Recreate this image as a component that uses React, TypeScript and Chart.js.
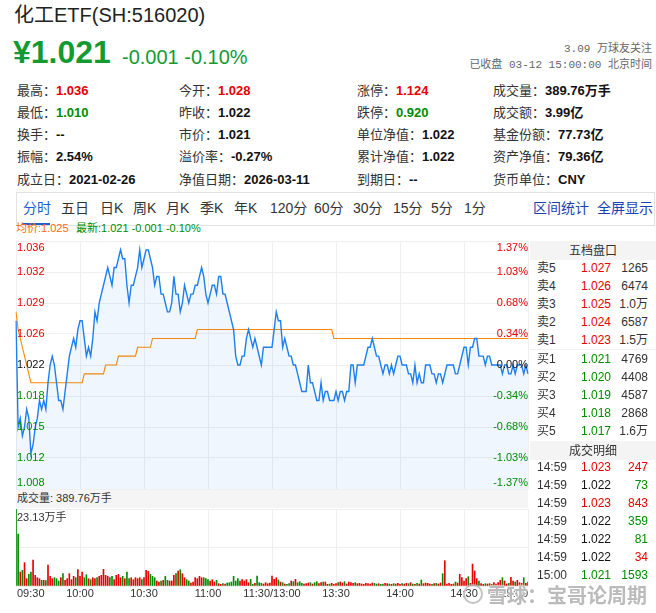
import React, { useEffect, useRef } from "react";
import { Chart, registerables } from "chart.js";

Chart.register(...registerables);

// ---------------- data ----------------
const PREV_CLOSE = 1.022;
const OPEN_PRICE = 1.028;
const VOL_MAX = 23.13;

const TIME_TICK_INDEX = [0, 30, 60, 90, 120, 150, 180, 210, 240];
const TIME_TICK_LABELS = ["09:30", "10:00", "10:30", "11:00", "11:30/13:00", "13:30", "14:00", "14:30", "15:00"];

const PRICE_TICKS = [1.036, 1.0325, 1.029, 1.0255, 1.022, 1.0185, 1.015, 1.0115, 1.008];
const PRICE_TICK_LABELS = ["1.036", "1.032", "1.029", "1.026", "1.022", "1.018", "1.015", "1.012", "1.008"];
const PCT_TICK_LABELS = ["1.37%", "1.03%", "0.68%", "0.34%", "0.00%", "-0.34%", "-0.68%", "-1.03%", "-1.37%"];

const PRICE = [
  1.027, 1.015, 1.016, 1.014, 1.015, 1.017, 1.016, 1.012, 1.013, 1.015,
  1.016, 1.018, 1.017, 1.018, 1.017, 1.020, 1.022, 1.023, 1.022, 1.020,
  1.018, 1.018, 1.017, 1.019, 1.021, 1.023, 1.024, 1.025, 1.024, 1.026,
  1.027, 1.027, 1.025, 1.023, 1.024, 1.023, 1.025, 1.028, 1.027, 1.029,
  1.030, 1.031, 1.032, 1.033, 1.032, 1.031, 1.033, 1.033, 1.034, 1.035,
  1.034, 1.034, 1.031, 1.029, 1.031, 1.031, 1.032, 1.033, 1.035, 1.033,
  1.034, 1.035, 1.035, 1.034, 1.033, 1.031, 1.032, 1.032, 1.030, 1.030,
  1.029, 1.028, 1.028, 1.029, 1.032, 1.030, 1.030, 1.028, 1.029, 1.031,
  1.030, 1.029, 1.030, 1.030, 1.031, 1.031, 1.032, 1.033, 1.032, 1.030,
  1.029, 1.030, 1.031, 1.031, 1.030, 1.032, 1.032, 1.030, 1.030, 1.029,
  1.028, 1.027, 1.026, 1.023, 1.022, 1.022, 1.023, 1.023, 1.025, 1.026,
  1.025, 1.024, 1.025, 1.024, 1.023, 1.022, 1.024, 1.024, 1.024, 1.024,
  1.024, 1.026, 1.028, 1.027, 1.027, 1.024, 1.025, 1.024, 1.023, 1.023,
  1.022, 1.022, 1.021, 1.020, 1.019, 1.019, 1.019, 1.022, 1.020, 1.020,
  1.019, 1.018, 1.018, 1.020, 1.018, 1.019, 1.019, 1.018, 1.018, 1.018,
  1.019, 1.018, 1.019, 1.019, 1.018, 1.019, 1.019, 1.022, 1.022, 1.020,
  1.022, 1.022, 1.022, 1.022, 1.023, 1.024, 1.024, 1.025, 1.024, 1.023,
  1.023, 1.022, 1.021, 1.022, 1.022, 1.021, 1.022, 1.021, 1.022, 1.023,
  1.023, 1.022, 1.022, 1.022, 1.021, 1.021, 1.020, 1.022, 1.020, 1.021,
  1.020, 1.020, 1.022, 1.022, 1.022, 1.021, 1.021, 1.020, 1.021, 1.021,
  1.020, 1.021, 1.022, 1.022, 1.022, 1.022, 1.021, 1.021, 1.022, 1.023,
  1.024, 1.024, 1.022, 1.024, 1.024, 1.025, 1.025, 1.023, 1.023, 1.023,
  1.022, 1.023, 1.023, 1.022, 1.022, 1.022, 1.022, 1.022, 1.021, 1.022,
  1.022, 1.021, 1.021, 1.022, 1.021, 1.022, 1.022, 1.022, 1.021, 1.022,
  1.021,
];

const AVG_PRICE = [
  1.028, 1.026, 1.025, 1.024, 1.023, 1.022, 1.021, 1.020, 1.020, 1.020,
  1.020, 1.020, 1.020, 1.020, 1.020, 1.020, 1.020, 1.020, 1.020, 1.020,
  1.020, 1.020, 1.020, 1.020, 1.020, 1.020, 1.020, 1.020, 1.020, 1.020,
  1.020, 1.020, 1.021, 1.021, 1.021, 1.021, 1.021, 1.021, 1.021, 1.021,
  1.021, 1.021, 1.022, 1.022, 1.022, 1.022, 1.022, 1.022, 1.023, 1.023,
  1.023, 1.023, 1.023, 1.023, 1.023, 1.023, 1.023, 1.024, 1.024, 1.024,
  1.024, 1.024, 1.024, 1.024, 1.025, 1.025, 1.025, 1.025, 1.025, 1.025,
  1.025, 1.025, 1.025, 1.025, 1.025, 1.025, 1.025, 1.025, 1.025, 1.025,
  1.025, 1.025, 1.025, 1.025, 1.025, 1.026, 1.026, 1.026, 1.026, 1.026,
  1.026, 1.026, 1.026, 1.026, 1.026, 1.026, 1.026, 1.026, 1.026, 1.026,
  1.026, 1.026, 1.026, 1.026, 1.026, 1.026, 1.026, 1.026, 1.026, 1.026,
  1.026, 1.026, 1.026, 1.026, 1.026, 1.026, 1.026, 1.026, 1.026, 1.026,
  1.026, 1.026, 1.026, 1.026, 1.026, 1.026, 1.026, 1.026, 1.026, 1.026,
  1.026, 1.026, 1.026, 1.026, 1.026, 1.026, 1.026, 1.026, 1.026, 1.026,
  1.026, 1.026, 1.026, 1.026, 1.026, 1.026, 1.026, 1.026, 1.026, 1.025,
  1.025, 1.025, 1.025, 1.025, 1.025, 1.025, 1.025, 1.025, 1.025, 1.025,
  1.025, 1.025, 1.025, 1.025, 1.025, 1.025, 1.025, 1.025, 1.025, 1.025,
  1.025, 1.025, 1.025, 1.025, 1.025, 1.025, 1.025, 1.025, 1.025, 1.025,
  1.025, 1.025, 1.025, 1.025, 1.025, 1.025, 1.025, 1.025, 1.025, 1.025,
  1.025, 1.025, 1.025, 1.025, 1.025, 1.025, 1.025, 1.025, 1.025, 1.025,
  1.025, 1.025, 1.025, 1.025, 1.025, 1.025, 1.025, 1.025, 1.025, 1.025,
  1.025, 1.025, 1.025, 1.025, 1.025, 1.025, 1.025, 1.025, 1.025, 1.025,
  1.025, 1.025, 1.025, 1.025, 1.025, 1.025, 1.025, 1.025, 1.025, 1.025,
  1.025, 1.025, 1.025, 1.025, 1.025, 1.025, 1.025, 1.025, 1.025, 1.025,
  1.025,
];

// 万手 per minute
const VOLUME = [
  23.13, 15.6, 4.2, 4.7, 7.0, 2.2, 3.5, 4.2, 7.8, 3.2,
  2.5, 2.2, 1.7, 1.7, 1.6, 6.3, 2.9, 2.2, 2.5, 2.2,
  1.5, 2.5, 3.7, 1.7, 2.2, 3.7, 1.9, 2.9, 2.5, 4.9,
  2.9, 4.2, 2.5, 3.4, 2.2, 1.9, 2.5, 2.2, 2.5, 2.9,
  3.2, 5.0, 3.2, 2.9, 2.5, 2.9, 1.9, 3.2, 3.5, 2.5,
  2.9, 2.2, 4.2, 2.2, 2.5, 1.9, 2.5, 2.2, 2.5, 1.9,
  2.5, 4.7, 4.4, 3.5, 2.9, 2.5, 1.5, 1.2, 1.5, 1.7,
  2.9, 1.7, 1.5, 1.5, 3.2, 3.7, 4.5, 4.9, 3.7, 2.5,
  1.9, 1.5, 0.9, 1.2, 2.5, 2.2, 2.9, 2.5, 2.5, 2.2,
  1.9, 1.5, 1.9, 1.2, 1.7, 0.7, 0.5, 0.7, 0.6, 0.9,
  1.0, 1.2, 2.9, 1.5, 2.2, 1.5, 1.9, 1.5, 1.9, 1.0,
  2.0, 0.5, 0.8, 3.0, 1.0, 0.8, 0.6, 1.0, 0.7, 0.9,
  3.0, 2.0, 2.5, 1.8, 1.2, 1.0, 0.6, 0.5, 0.7, 1.5,
  1.3, 2.0, 1.0, 1.3, 0.8, 0.6, 0.7, 0.9, 1.0, 0.6,
  1.0, 1.3, 0.7, 1.0, 1.2, 1.2, 0.5, 0.6, 0.8, 0.5,
  0.7, 1.0, 1.2, 0.9, 1.3, 0.6, 1.2, 1.0, 0.8, 1.0,
  0.7, 0.8, 0.6, 0.5, 0.8, 0.7, 0.6, 0.9, 0.8, 0.6,
  0.7, 0.5, 0.6, 0.8, 0.7, 0.6, 0.5, 0.7, 0.6, 0.8,
  0.5, 0.7, 0.6, 0.8, 0.7, 1.0, 0.6, 0.5, 0.8, 0.6,
  1.8, 0.7, 0.9, 0.8, 0.6, 0.5, 0.7, 0.8, 0.6, 0.9,
  3.7, 7.6, 0.6, 0.8, 0.5, 0.6, 1.2, 0.9, 3.5, 2.5,
  1.5, 2.2, 2.8, 0.8, 6.6, 4.5, 2.2, 1.5, 0.7, 0.5,
  0.7, 0.6, 0.7, 0.5, 1.0, 0.6, 1.0, 1.7, 2.5, 1.5,
  0.6, 0.8, 2.6, 1.5, 1.2, 1.7, 1.0, 0.8, 2.5, 0.8,
  1.2,
];

const ASK_PRICES = ["1.027", "1.026", "1.025", "1.024", "1.023"];
const ASK_VOLS = ["1265", "6474", "1.0万", "6587", "1.5万"];
const BID_PRICES = ["1.021", "1.020", "1.019", "1.018", "1.017"];
const BID_VOLS = ["4769", "4408", "4587", "2868", "1.6万"];

const TRADE_TIMES = ["14:59", "14:59", "14:59", "14:59", "14:59", "14:59", "15:00"];
const TRADE_PRICES = [1.023, 1.022, 1.023, 1.022, 1.022, 1.022, 1.021];
const TRADE_VOLS = ["247", "73", "843", "359", "81", "34", "1593"];
const TRADE_SIDES = ["B", "S", "B", "S", "S", "B", "S"];

// ---------------- style ----------------
const RED = "#e60000";
const GREEN = "#008c00";
const BIG_GREEN = "#139a32";
const TEXT = "#333333";
const GRID = "#efefef";
const FONT = "'Liberation Sans', 'Noto Sans CJK SC', sans-serif";
const MONO = "'Liberation Mono', 'Noto Sans CJK SC', monospace";

const MINUTES: string[] = [];
for (let i = 0; i <= 240; i++) {
  const m = i <= 120 ? 9 * 60 + 30 + i : 13 * 60 + (i - 120);
  MINUTES.push(`${String(Math.floor(m / 60)).padStart(2, "0")}:${String(m % 60).padStart(2, "0")}`);
}

const dirColor = (v: number, ref: number, flat = TEXT) =>
  Math.abs(v - ref) < 1e-9 ? flat : v > ref ? RED : GREEN;

// ---------------- charts ----------------
function PriceChart() {
  const ref = useRef<HTMLCanvasElement>(null);
  useEffect(() => {
    const labelPlugin = {
      id: "priceLabels",
      afterDatasetsDraw(chart: any) {
        const { ctx, chartArea, scales } = chart;
        ctx.save();
        ctx.font = `11px ${FONT}`;
        const n = PRICE_TICKS.length;
        PRICE_TICKS.forEach((v, i) => {
          const y = scales.y.getPixelForValue(v);
          ctx.textBaseline = i === 0 ? "top" : i === n - 1 ? "bottom" : "middle";
          const yy = i === 0 ? y + 1 : i === n - 1 ? y - 1 : y;
          ctx.fillStyle = dirColor(v, PREV_CLOSE, "#111");
          ctx.textAlign = "left";
          ctx.fillText(PRICE_TICK_LABELS[i], chartArea.left + 1, yy);
          ctx.textAlign = "right";
          ctx.fillText(PCT_TICK_LABELS[i], chartArea.right, yy);
        });
        ctx.restore();
      },
    };
    const chart = new Chart(ref.current!, {
      type: "line",
      data: {
        labels: MINUTES,
        datasets: [
          {
            data: PRICE,
            borderColor: "#1b7ff0",
            borderWidth: 1.4,
            pointRadius: 0,
            fill: "start",
            backgroundColor: "rgba(30,127,240,0.07)",
            tension: 0,
          },
          {
            data: AVG_PRICE,
            borderColor: "#ff8800",
            borderWidth: 1.1,
            pointRadius: 0,
            fill: false,
            tension: 0,
          },
        ],
      },
      options: {
        animation: false,
        responsive: false,
        maintainAspectRatio: false,
        layout: { padding: { left: 8, right: 8, top: 8, bottom: 8 } },
        plugins: { legend: { display: false }, tooltip: { enabled: false } },
        scales: {
          x: {
            type: "category",
            offset: false,
            grid: { color: GRID, drawTicks: false },
            border: { display: false },
            ticks: { display: false },
            afterBuildTicks: (s: any) => {
              s.ticks = TIME_TICK_INDEX.map((v) => ({ value: v }));
            },
          },
          y: {
            min: PRICE_TICKS[PRICE_TICKS.length - 1],
            max: PRICE_TICKS[0],
            grid: { color: GRID, drawTicks: false },
            border: { display: false },
            ticks: { display: false },
            afterBuildTicks: (s: any) => {
              s.ticks = PRICE_TICKS.map((v) => ({ value: v }));
            },
          },
        },
      } as any,
      plugins: [labelPlugin],
    });
    return () => chart.destroy();
  }, []);
  return (
    <canvas
      ref={ref}
      width={528}
      height={264}
      style={{ position: "absolute", left: 8, top: 233, width: 528, height: 264 }}
    />
  );
}

function VolumeChart() {
  const ref = useRef<HTMLCanvasElement>(null);
  useEffect(() => {
    const colors = PRICE.map((p, i) => {
      const prev = i === 0 ? OPEN_PRICE : PRICE[i - 1];
      return p >= prev ? RED : GREEN;
    });
    const labelPlugin = {
      id: "volLabels",
      afterDatasetsDraw(chart: any) {
        const { ctx, chartArea, scales } = chart;
        ctx.save();
        ctx.font = `11px ${FONT}`;
        ctx.fillStyle = TEXT;
        ctx.textBaseline = "middle";
        ctx.textAlign = "left";
        ctx.fillText(`${VOL_MAX}万手`, chartArea.left + 1, scales.y.getPixelForValue(VOL_MAX) + 9);
        const n = TIME_TICK_INDEX.length;
        TIME_TICK_INDEX.forEach((idx, i) => {
          const x = scales.x.getPixelForValue(idx);
          ctx.textAlign = i === 0 ? "left" : i === n - 1 ? "right" : "center";
          ctx.fillText(TIME_TICK_LABELS[i], x + (i === 0 ? 1 : 0), chartArea.bottom + 8);
        });
        ctx.restore();
      },
    };
    const chart = new Chart(ref.current!, {
      type: "bar",
      data: {
        labels: MINUTES,
        datasets: [
          {
            data: VOLUME,
            backgroundColor: colors,
            borderWidth: 0,
            barThickness: 1,
          },
        ],
      },
      options: {
        animation: false,
        responsive: false,
        maintainAspectRatio: false,
        layout: { padding: { left: 8, right: 8, top: 8, bottom: 27 } },
        plugins: { legend: { display: false }, tooltip: { enabled: false } },
        scales: {
          x: {
            type: "category",
            offset: false,
            grid: { color: GRID, drawTicks: false, offset: false },
            border: { display: false },
            ticks: { display: false },
            afterBuildTicks: (s: any) => {
              s.ticks = TIME_TICK_INDEX.map((v) => ({ value: v }));
            },
          },
          y: {
            min: 0,
            max: VOL_MAX,
            grid: { color: GRID, drawTicks: false },
            border: { display: false },
            ticks: { display: false },
            afterBuildTicks: (s: any) => {
              s.ticks = [0, VOL_MAX / 2, VOL_MAX].map((v) => ({ value: v }));
            },
          },
        },
      } as any,
      plugins: [labelPlugin],
    });
    return () => chart.destroy();
  }, []);
  return (
    <canvas
      ref={ref}
      width={528}
      height={112}
      style={{ position: "absolute", left: 8, top: 501, width: 528, height: 112 }}
    />
  );
}

// ---------------- DOM helpers ----------------
function T(props: {
  x: number;
  y: number;
  right?: boolean;
  center?: boolean;
  size?: number;
  color?: string;
  bold?: boolean;
  font?: string;
  children: React.ReactNode;
}) {
  const { x, y, right, center, size = 12, color = TEXT, bold, font = FONT, children } = props;
  const style: React.CSSProperties = {
    position: "absolute",
    top: y,
    transform: center ? "translate(-50%,-50%)" : "translateY(-50%)",
    fontSize: size,
    lineHeight: 1.2,
    color,
    fontWeight: bold ? 700 : 400,
    fontFamily: font,
    whiteSpace: "nowrap",
  };
  if (right) style.right = 656 - x;
  else style.left = x;
  return <div style={style}>{children}</div>;
}

type Cell = [string, string, string];
const INFO_COL_X = [17, 179, 357, 493];
const INFO_ROW_Y = [90.5, 112.8, 135, 157.3, 179.5];
const INFO_ROWS: Cell[][] = [
  [["最高", "1.036", "up"], ["今开", "1.028", "up"], ["涨停", "1.124", "up"], ["成交量", "389.76万手", ""]],
  [["最低", "1.010", "down"], ["昨收", "1.022", ""], ["跌停", "0.920", "down"], ["成交额", "3.99亿", ""]],
  [["换手", "--", ""], ["市价", "1.021", ""], ["单位净值", "1.022", ""], ["基金份额", "77.73亿", ""]],
  [["振幅", "2.54%", ""], ["溢价率", "-0.27%", ""], ["累计净值", "1.022", ""], ["资产净值", "79.36亿", ""]],
  [["成立日", "2021-02-26", ""], ["净值日期", "2026-03-11", ""], ["到期日", "--", ""], ["货币单位", "CNY", ""]],
];

const TABS: [string, number][] = [
  ["分时", 23], ["五日", 61], ["日K", 100], ["周K", 133], ["月K", 166], ["季K", 200], ["年K", 234],
  ["120分", 270], ["60分", 314], ["30分", 353], ["15分", 393], ["5分", 431], ["1分", 464],
];

export default function App() {
  return (
    <div
      style={{
        position: "absolute",
        left: 0,
        top: 0,
        width: 656,
        height: 613,
        overflow: "hidden",
        background: "#fff",
        fontFamily: FONT,
      }}
    >
      {/* header */}
      <T x={14} y={15} size={20} color="#222">化工ETF(SH:516020)</T>
      <T x={13} y={52} size={32} bold color={BIG_GREEN}>¥1.021</T>
      <T x={122} y={57} size={20} color={BIG_GREEN}>-0.001 -0.10%</T>
      <T x={652} y={50} right size={11} color="#666" font={MONO}>3.09 万球友关注</T>
      <T x={652} y={66} right size={11} color="#666" font={MONO}>已收盘 03-12 15:00:00 北京时间</T>

      {/* info grid */}
      {INFO_ROWS.map((row, r) =>
        row.map((c, k) => (
          <T key={`${r}-${k}`} x={INFO_COL_X[k]} y={INFO_ROW_Y[r]} size={13}>
            <span>{c[0]}：</span>
            <span style={{ fontWeight: 700, color: c[2] === "up" ? RED : c[2] === "down" ? GREEN : "#111" }}>
              {c[1]}
            </span>
          </T>
        ))
      )}

      {/* tabs */}
      <div
        style={{
          position: "absolute",
          left: 16,
          top: 192,
          width: 639,
          height: 34,
          border: "1px solid #e2e2e2",
          boxSizing: "border-box",
        }}
      />
      {TABS.map(([t, x], i) => (
        <T key={t} x={x} y={208} size={14} color={i === 0 ? "#1c5fd0" : TEXT}>{t}</T>
      ))}
      <div style={{ position: "absolute", left: 22, top: 223, width: 28, height: 2, background: "#1c5fd0" }} />
      <T x={533} y={208} size={14} color="#1a3fb2">区间统计</T>
      <T x={597} y={208} size={14} color="#1a3fb2">全屏显示</T>

      {/* legend */}
      <T x={16} y={229} size={11} color="#ff6a00">均价:1.025</T>
      <T x={76} y={229} size={11} color={GREEN}>最新:1.021 -0.001 -0.10%</T>

      <PriceChart />

      {/* volume header band */}
      <div style={{ position: "absolute", left: 16, top: 490, width: 512, height: 18, background: "#f5f5f5" }} />
      <T x={17} y={499} size={11}>成交量: 389.76万手</T>

      <VolumeChart />

      {/* order book */}
      <div style={{ position: "absolute", left: 530, top: 241, width: 126, height: 19, background: "#f4f4f4" }} />
      <T x={593} y={250.5} center size={12}>五档盘口</T>
      {ASK_PRICES.map((p, i) => (
        <React.Fragment key={`a${i}`}>
          <T x={537} y={268 + 18 * i} size={12}>卖{5 - i}</T>
          <T x={581} y={268 + 18 * i} size={12} color={dirColor(parseFloat(p), PREV_CLOSE)}>{p}</T>
          <T x={648} y={268 + 18 * i} right size={12}>{ASK_VOLS[i]}</T>
        </React.Fragment>
      ))}
      <div style={{ position: "absolute", left: 530, top: 349, width: 126, height: 1, background: "#f0f0f0" }} />
      {BID_PRICES.map((p, i) => (
        <React.Fragment key={`b${i}`}>
          <T x={537} y={359 + 18 * i} size={12}>买{i + 1}</T>
          <T x={581} y={359 + 18 * i} size={12} color={dirColor(parseFloat(p), PREV_CLOSE)}>{p}</T>
          <T x={648} y={359 + 18 * i} right size={12}>{BID_VOLS[i]}</T>
        </React.Fragment>
      ))}

      {/* trades */}
      <div style={{ position: "absolute", left: 530, top: 441, width: 126, height: 19, background: "#f4f4f4" }} />
      <T x={593} y={450.5} center size={12}>成交明细</T>
      {TRADE_TIMES.map((t, i) => (
        <React.Fragment key={`t${i}`}>
          <T x={537} y={467 + 18 * i} size={12}>{t}</T>
          <T x={581} y={467 + 18 * i} size={12} color={dirColor(TRADE_PRICES[i], PREV_CLOSE, "#111")}>
            {TRADE_PRICES[i].toFixed(3)}
          </T>
          <T x={648} y={467 + 18 * i} right size={12} color={TRADE_SIDES[i] === "B" ? RED : GREEN}>
            {TRADE_VOLS[i]}
          </T>
        </React.Fragment>
      ))}

      {/* watermark */}
      <div
        style={{
          position: "absolute",
          left: 463,
          top: 582,
          height: 24,
          display: "flex",
          alignItems: "center",
          color: "rgba(170,170,170,0.8)",
          fontSize: 20,
          fontWeight: 700,
          fontFamily: FONT,
          textShadow: "0 0 2px #fff, 0 0 2px #fff",
          whiteSpace: "nowrap",
        }}
      >
        <span
          style={{
            display: "inline-block",
            width: 20,
            height: 20,
            borderRadius: "50%",
            border: "2px solid rgba(180,180,180,0.8)",
            marginRight: 4,
            boxSizing: "border-box",
          }}
        />
        雪球：宝哥论周期
      </div>
    </div>
  );
}
